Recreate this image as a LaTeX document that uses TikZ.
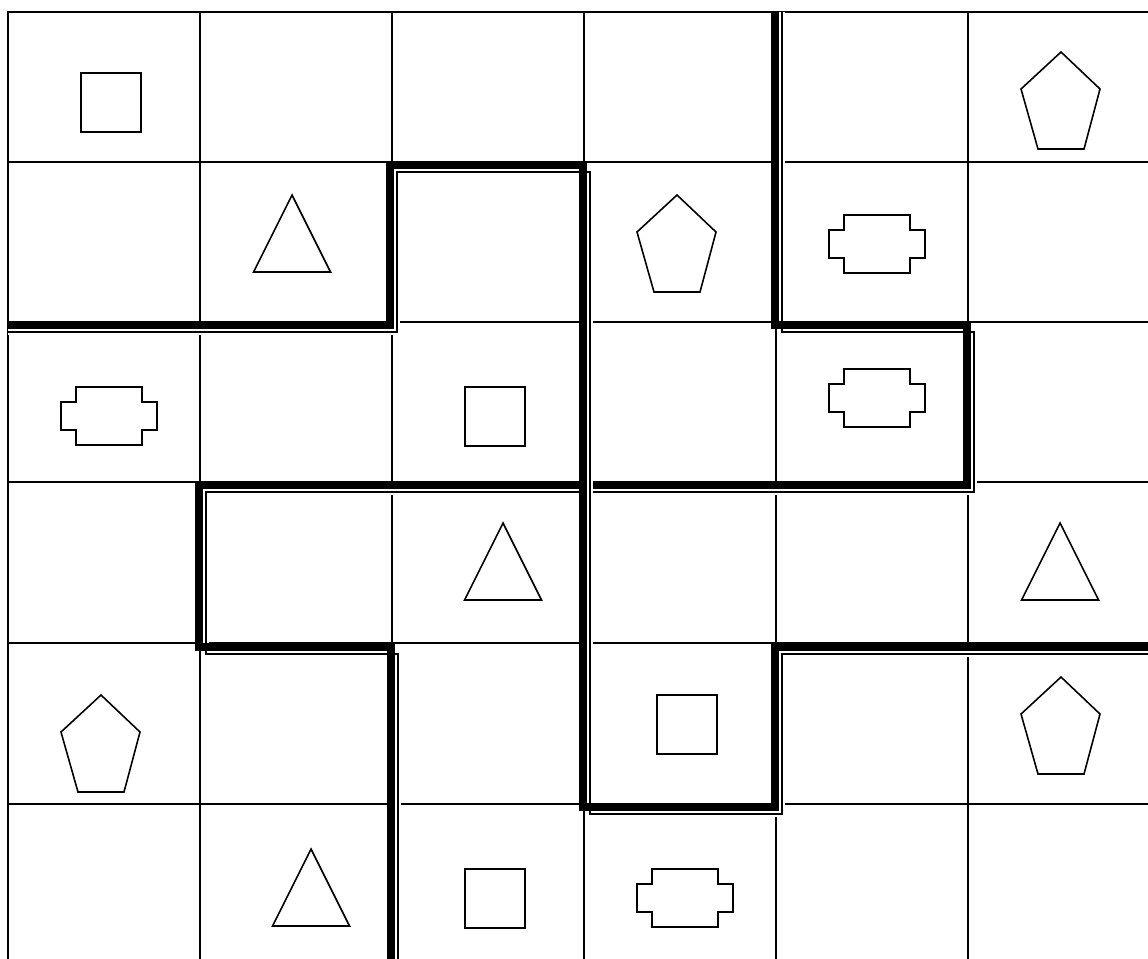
\documentclass[tikz,border=0pt]{standalone}
\usepackage{tikz}
\tikzset{
    gridline/.style={
        line width=1.15pt,
        line cap=rect
    },
    wallthick/.style={
        line width=4.4pt,
        line join=miter
    },
    wallthin/.style={
        line width=1.2pt,
        line join=miter
    },
    wallgap/.style={
        white,
        line width=3.4pt,
        line join=miter
    },
    piece/.style={
        line width=0.9pt,
        line join=miter
    },
    sqpiece/.pic={
        \draw[piece] (0,0) rectangle (60,59);
    },
    tripiece/.pic={
        \draw[piece] (0,0) -- (38.5,77) -- (-38.5,77) -- cycle;
    },
    pentapiece/.pic={
        \draw[piece] (0,0) -- (39,37) -- (23,97) -- (-23,97) -- (-40,37) -- cycle;
    },
    plugpiece/.pic={
        \draw[piece] (-33,-29) -- (33,-29) -- (33,-14) -- (48,-14) -- (48,14)
            -- (33,14) -- (33,29) -- (-33,29) -- (-33,14) -- (-48,14)
            -- (-48,-14) -- (-33,-14) -- cycle;
    }
}

\begin{document}
\begin{tikzpicture}[x=0.02cm, y=-0.02cm]
        \useasboundingbox (0,0) rectangle (1148,958);
        \clip (0,0) rectangle (1148,958);

        \foreach \gx in {8,200,392,584,776,968} {
            \draw[gridline] (\gx,12) -- (\gx,958);
        }
        \foreach \gy in {12,162,322,482,643,804} {
            \draw[gridline] (8,\gy) -- (1148,\gy);
        }

        \pic at (81,73) {sqpiece};
        \pic at (465,387) {sqpiece};
        \pic at (657,695) {sqpiece};
        \pic at (465,869) {sqpiece};

        \pic at (292,195) {tripiece};
        \pic at (503,523) {tripiece};
        \pic at (1060,523) {tripiece};
        \pic at (311,849) {tripiece};

        \pic at (1061,52) {pentapiece};
        \pic at (677,195) {pentapiece};
        \pic at (101,695) {pentapiece};
        \pic at (1061,677) {pentapiece};

        \pic at (109,416) {plugpiece};
        \pic at (877,244) {plugpiece};
        \pic at (877,398) {plugpiece};
        \pic at (685,898) {plugpiece};

        \begin{scope}[shift={(7,7)}]
            \draw[wallgap] (775,5) -- (775,325) -- (967,325) -- (967,485)
                -- (199,485) -- (199,647) -- (391,647) -- (391,970);
            \draw[wallthin] (775,5) -- (775,325) -- (967,325) -- (967,485)
                -- (199,485) -- (199,647) -- (391,647) -- (391,970);
        \end{scope}
        \draw[wallthick] (775,12) -- (775,325) -- (967,325) -- (967,485)
            -- (199,485) -- (199,647) -- (391,647) -- (391,970);

        \begin{scope}[shift={(7,7)}]
            \draw[wallgap] (1,325) -- (390,325) -- (390,165) -- (583,165)
                -- (583,807) -- (775,807) -- (775,647) -- (1160,647);
            \draw[wallthin] (1,325) -- (390,325) -- (390,165) -- (583,165)
                -- (583,807) -- (775,807) -- (775,647) -- (1160,647);
        \end{scope}
        \draw[wallthick] (8,325) -- (390,325) -- (390,165) -- (583,165)
            -- (583,807) -- (775,807) -- (775,647) -- (1160,647);
    \end{tikzpicture}
\end{document}
